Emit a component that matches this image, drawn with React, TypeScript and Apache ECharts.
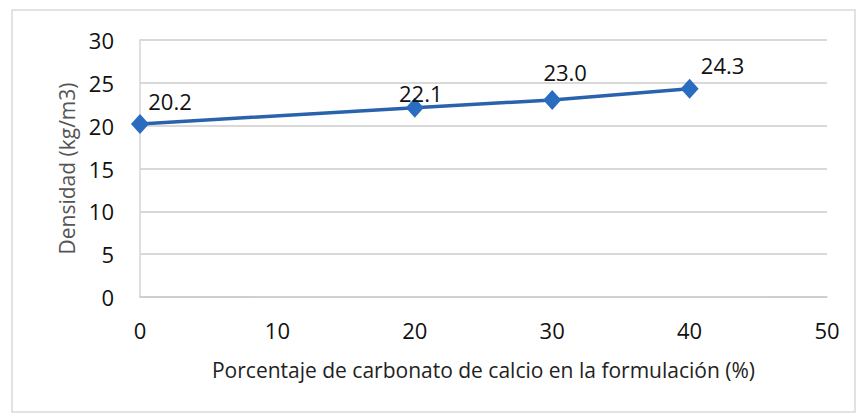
import React, { useEffect, useRef } from "react";
import * as echarts from "echarts";

const xValues = [0, 20, 30, 40];
const densidad = [20.2, 22.1, 23.0, 24.3];
const labelOffsets = [
  [30, -23],
  [6, -15],
  [13, -28],
  [33, -24],
];

export default function App() {
  const ref = useRef<HTMLDivElement>(null);
  useEffect(() => {
    const chart = echarts.init(ref.current!, null, { renderer: "svg" });
    const font = "'Open Sans', 'Noto Sans', sans-serif";
    chart.setOption({
      animation: false,
      backgroundColor: "#ffffff",
      graphic: [
        {
          type: "rect",
          shape: { x: 12, y: 10, width: 843, height: 402 },
          style: { fill: "none", stroke: "#d9d9d9", lineWidth: 1.5 },
          silent: true,
        },
      ],
      grid: { left: 140, right: 40, top: 40, bottom: 117 },
      xAxis: {
        type: "value",
        min: 0,
        max: 50,
        interval: 10,
        name: "Porcentaje de carbonato de calcio en la formulación (%)",
        nameLocation: "middle",
        nameGap: 62,
        nameTextStyle: { fontFamily: font, fontSize: 21, color: "#222" },
        axisLine: { show: true, lineStyle: { color: "#cccccc", width: 1.5 } },
        axisTick: { show: false },
        splitLine: { show: false },
        axisLabel: { fontFamily: font, fontSize: 22, color: "#111", margin: 22 },
      },
      yAxis: {
        type: "value",
        min: 0,
        max: 30,
        interval: 5,
        name: "Densidad (kg/m3)",
        nameLocation: "middle",
        nameGap: 63,
        nameTextStyle: { fontFamily: font, fontSize: 21, color: "#555" },
        axisLine: { show: true, lineStyle: { color: "#d4d4d4", width: 1.5 } },
        axisTick: { show: false },
        splitLine: { show: true, lineStyle: { color: "#cccccc", width: 1.5 } },
        axisLabel: { fontFamily: font, fontSize: 22, color: "#111", margin: 26 },
      },
      series: [
        {
          type: "line",
          data: xValues.map((x, i) => ({
            value: [x, densidad[i]],
            label: { position: "inside", offset: labelOffsets[i] },
          })),
          lineStyle: { color: "#2a62ae", width: 3.5 },
          itemStyle: { color: "#2a6cc0" },
          symbol: "diamond",
          symbolSize: [18, 20],
          label: {
            show: true,
            fontFamily: font,
            fontSize: 22,
            color: "#111",
            formatter: (p: any) => p.value[1].toFixed(1),
          },
        },
      ],
    });
    return () => chart.dispose();
  }, []);
  return (
    <div
      ref={ref}
      style={{ position: "fixed", left: 0, top: 0, width: 867, height: 414 }}
    />
  );
}
